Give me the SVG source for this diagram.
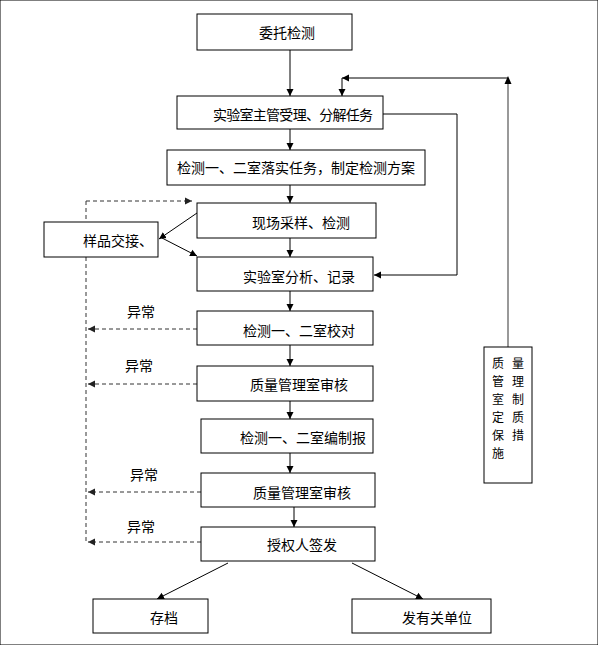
<svg xmlns="http://www.w3.org/2000/svg" width="598" height="645" viewBox="0 0 598 645">
<defs>
<marker id="ah" markerWidth="8" markerHeight="8" refX="7" refY="4" orient="auto" markerUnits="userSpaceOnUse">
<path d="M0,0.5 L7,4 L0,7.5 Z" fill="#000"/>
</marker>
<marker id="ahd" markerWidth="8" markerHeight="8" refX="7" refY="4" orient="auto" markerUnits="userSpaceOnUse">
<path d="M0,0.5 L7,4 L0,7.5 Z" fill="#222"/>
</marker>
</defs>
<style>
rect{fill:#fff;stroke:#000;stroke-width:1}
text{font-family:"Noto Sans CJK SC","Liberation Sans",sans-serif;font-size:14px;fill:#000}
.c{fill:none;stroke:#000;stroke-width:1}
.a{marker-end:url(#ah)}
.d{fill:none;stroke:#333;stroke-width:1;stroke-dasharray:4,3}
.da{marker-end:url(#ahd)}
.g{fill:none;stroke:#777;stroke-width:1.5}
.v{font-size:12px}
</style>
<rect width="598" height="645" fill="#fff" stroke="none"/>
<g id="connectors">
<line class="d" x1="86" y1="201" x2="86" y2="542"/>
<line class="d da" x1="86" y1="201" x2="192" y2="201"/>
<line class="d da" x1="197" y1="329" x2="88" y2="329"/>
<line class="d da" x1="197" y1="384" x2="88" y2="384"/>
<line class="d da" x1="201" y1="492" x2="88" y2="492"/>
<line class="d da" x1="201" y1="542" x2="88" y2="542"/>
<line class="c a" x1="290" y1="50" x2="290" y2="96"/>
<line class="c a" x1="290" y1="129" x2="290" y2="150"/>
<line class="c a" x1="290" y1="185" x2="290" y2="203"/>
<line class="c a" x1="290" y1="238" x2="290" y2="257"/>
<line class="c a" x1="290" y1="291" x2="290" y2="311"/>
<line class="c a" x1="290" y1="345" x2="290" y2="366"/>
<line class="c a" x1="290" y1="401" x2="290" y2="419"/>
<line class="c a" x1="290" y1="453" x2="290" y2="473"/>
<line class="c a" x1="294" y1="507" x2="294" y2="527"/>
<polyline class="c a" points="383,114 457,114 457,275 374,275"/>
<line class="g" x1="508" y1="347" x2="508" y2="84"/>
<path d="M504.5,84 L508,76 L511.5,84 Z" fill="#000"/>
<line class="c a" x1="508" y1="78" x2="342" y2="78"/>
<line class="c a" x1="342" y1="78" x2="342" y2="96"/>
<line class="c a" x1="197" y1="213" x2="159" y2="239"/>
<line class="c a" x1="162" y1="238" x2="197" y2="256"/>
<line class="c a" x1="228" y1="563" x2="157" y2="599"/>
<line class="c a" x1="352" y1="563" x2="423" y2="599"/>
</g>
<g id="n1"><rect x="197" y="14" width="155" height="36"/><text x="259" y="38">委托检测</text></g>
<g id="n2"><rect x="177" y="96" width="206" height="33"/><text x="213" y="120" textLength="160">实验室主管受理、分解任务</text></g>
<g id="n3"><rect x="167" y="150" width="258" height="35"/><text x="177" y="173">检测一、二室落实任务，制定检测方案</text></g>
<g id="n4"><rect x="197" y="203" width="179" height="35"/><text x="252" y="228">现场采样、检测</text></g>
<g id="n5"><rect x="44" y="222" width="114" height="35"/><text x="83" y="246">样品交接、</text></g>
<g id="n6"><rect x="197" y="257" width="176" height="34"/><text x="243" y="282">实验室分析、记录</text></g>
<g id="n7"><rect x="197" y="311" width="176" height="34"/><text x="243" y="336">检测一、二室校对</text></g>
<g id="n8"><rect x="197" y="366" width="176" height="35"/><text x="250" y="390">质量管理室审核</text></g>
<g id="n9"><rect x="201" y="419" width="172" height="34"/><text x="240" y="443">检测一、二室编制报</text></g>
<g id="n10"><rect x="201" y="473" width="174" height="34"/><text x="253" y="498">质量管理室审核</text></g>
<g id="n11"><rect x="201" y="527" width="174" height="34"/><text x="267" y="550">授权人签发</text></g>
<g id="n12"><rect x="93" y="599" width="115" height="34"/><text x="150" y="623">存档</text></g>
<g id="n13"><rect x="352" y="599" width="139" height="34"/><text x="402" y="623">发有关单位</text></g>
<g id="n14"><rect x="484" y="347" width="48" height="136"/>
<text class="v" x="498" y="368" text-anchor="middle">质</text>
<text class="v" x="498" y="386" text-anchor="middle">管</text>
<text class="v" x="498" y="404" text-anchor="middle">室</text>
<text class="v" x="498" y="422" text-anchor="middle">定</text>
<text class="v" x="498" y="440" text-anchor="middle">保</text>
<text class="v" x="498" y="458" text-anchor="middle">施</text>
<text class="v" x="518" y="368" text-anchor="middle">量</text>
<text class="v" x="518" y="386" text-anchor="middle">理</text>
<text class="v" x="518" y="404" text-anchor="middle">制</text>
<text class="v" x="518" y="422" text-anchor="middle">质</text>
<text class="v" x="518" y="440" text-anchor="middle">措</text>
</g>
<g id="labels">
<text x="127" y="317">异常</text>
<text x="125" y="371">异常</text>
<text x="130" y="480">异常</text>
<text x="127" y="532">异常</text>
</g>
</svg>
